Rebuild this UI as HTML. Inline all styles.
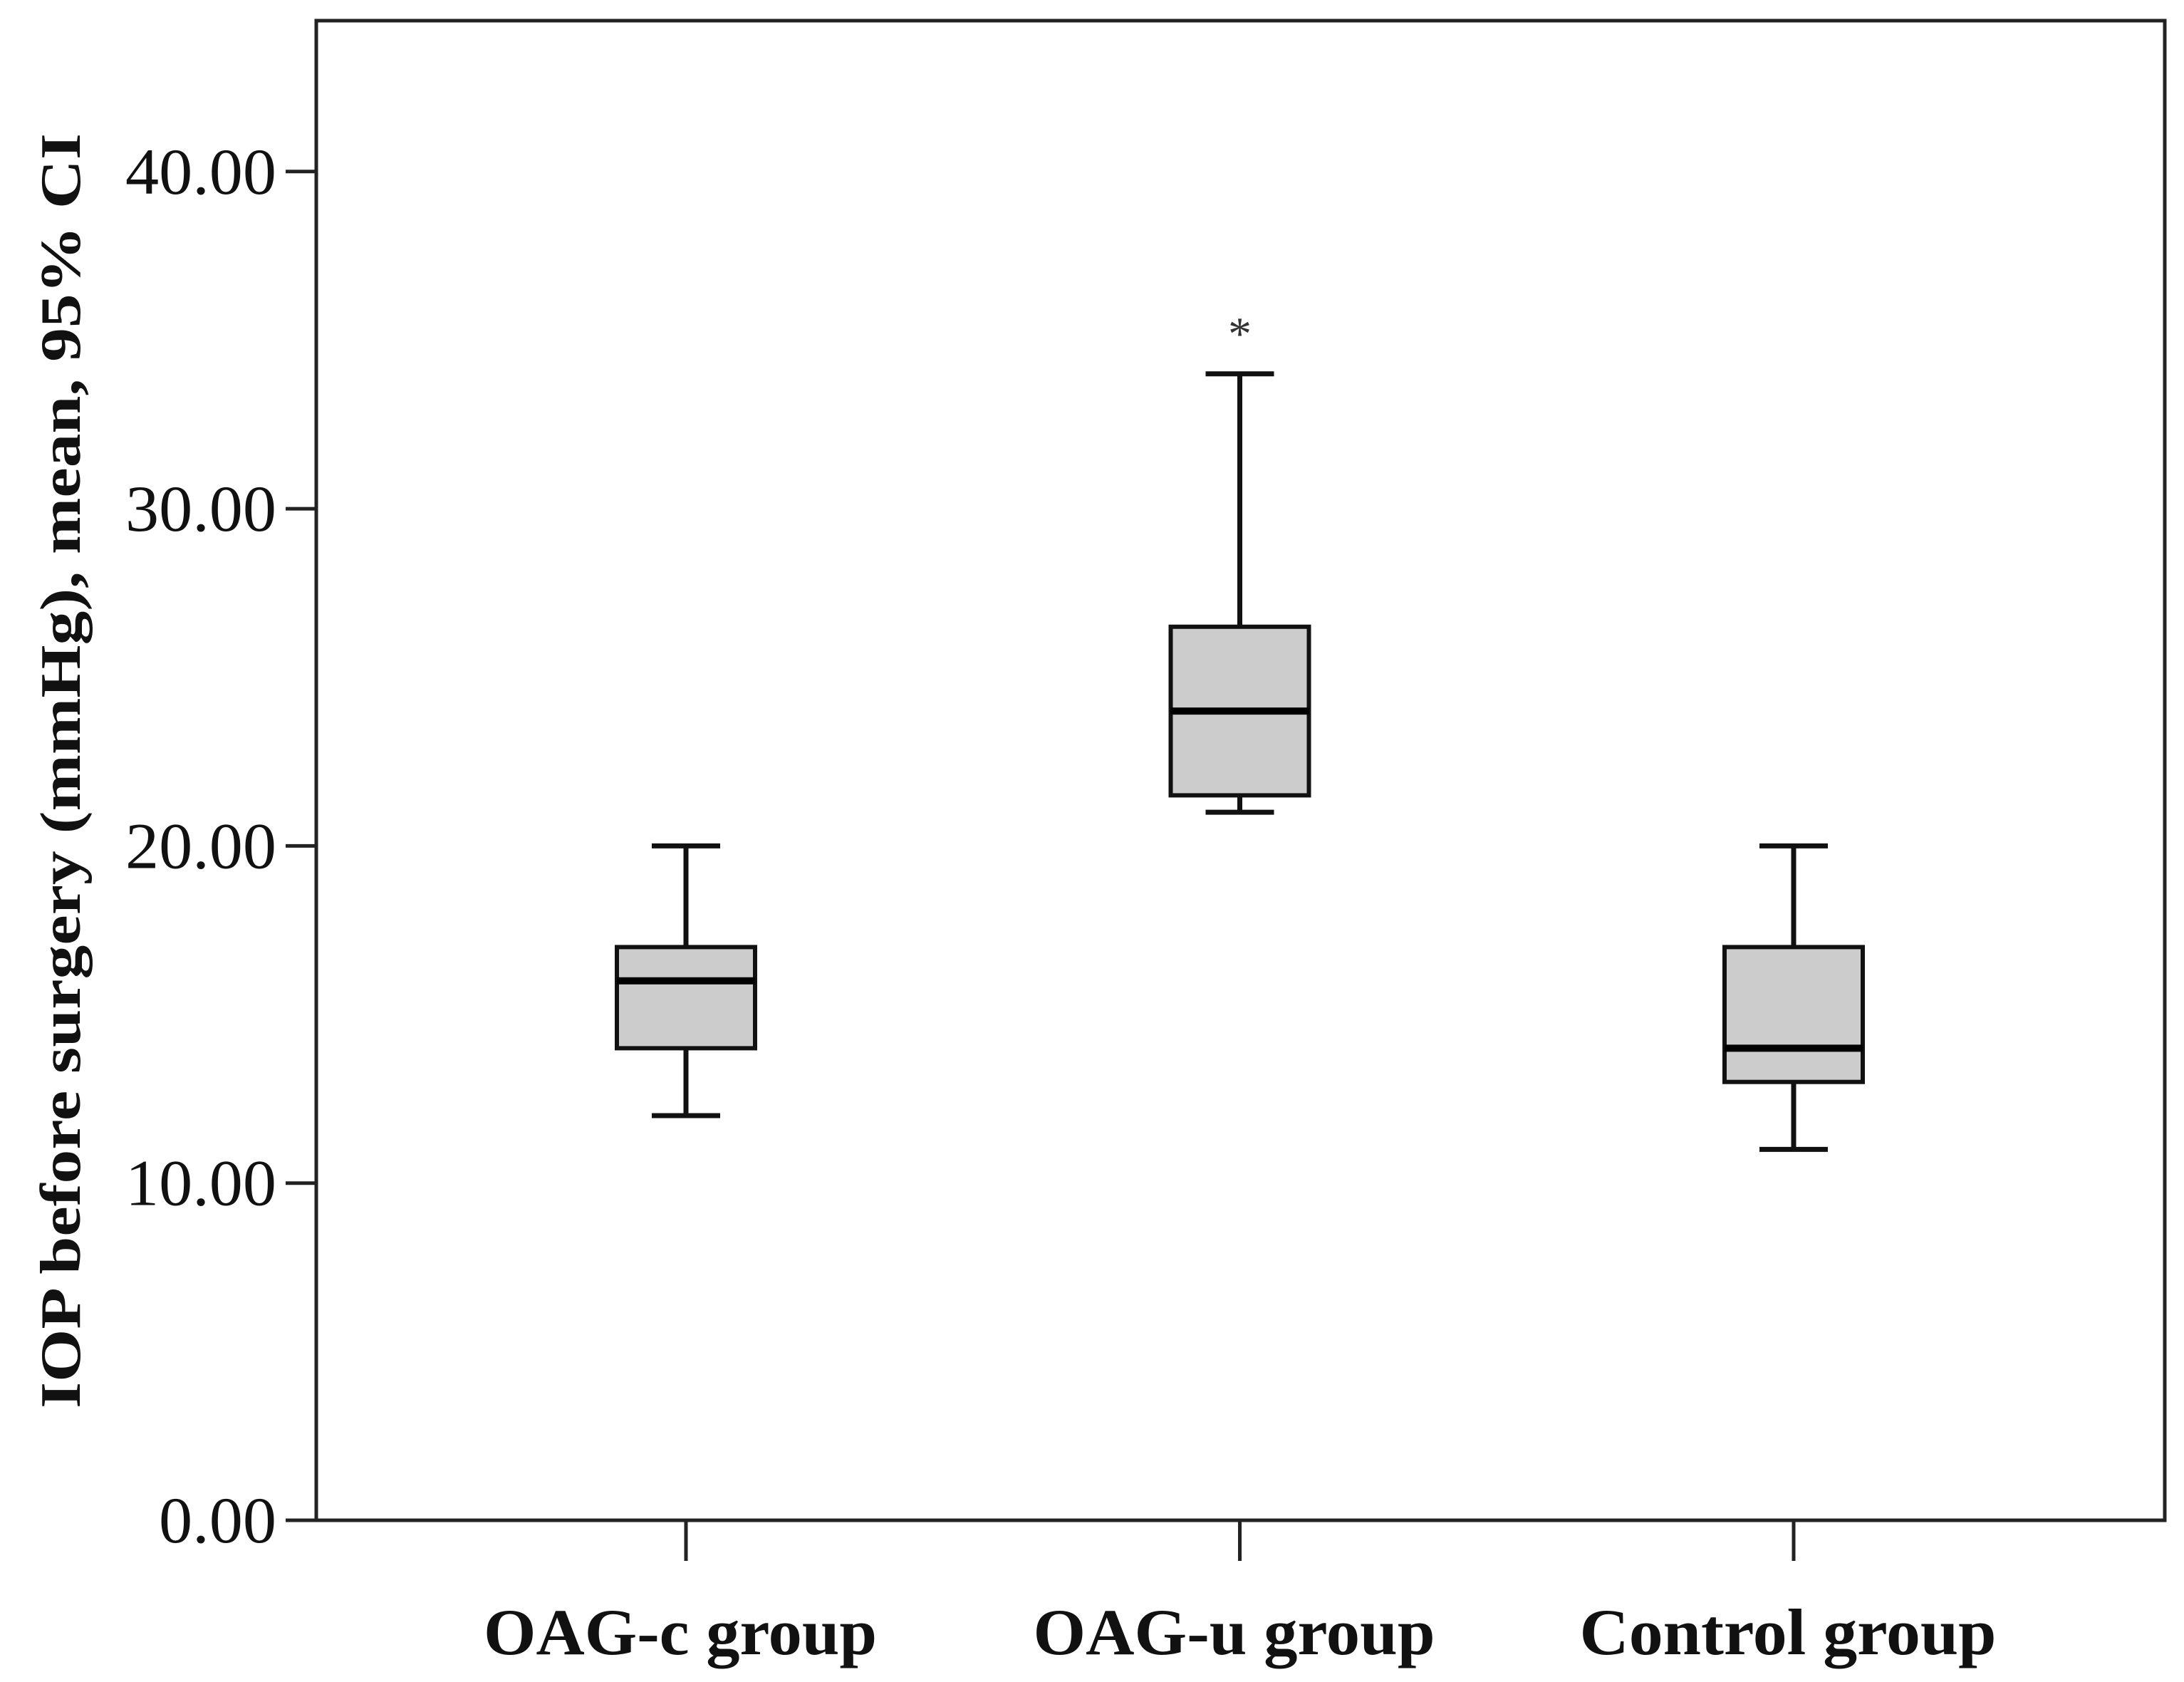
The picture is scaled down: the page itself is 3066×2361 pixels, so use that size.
<!DOCTYPE html>
<html><head><meta charset="utf-8"><style>html,body{margin:0;padding:0;background:#fff}svg{display:block}</style></head>
<body>
<svg id="chart" width="3066" height="2361" viewBox="0 0 3066 2361" xmlns="http://www.w3.org/2000/svg">
<rect x="444" y="29" width="2595" height="2105" fill="#fff" stroke="#222" stroke-width="5"/>
<g id="yaxis"></g>
<g id="xaxis"></g>
<g id="marks"></g>
<text x="0" y="0" transform="translate(112,1082) rotate(-90)" text-anchor="middle" font-family="Liberation Serif, serif" font-weight="bold" font-size="80" textLength="1790" lengthAdjust="spacingAndGlyphs" fill="#111">IOP before surgery (mmHg), mean, 95% CI</text>
</svg>
<script>
const categories = ["OAG-c group", "OAG-u group", "Control group"];
const whiskerLow = [12, 21, 11];
const q1 = [14, 21.5, 13];
const median = [16, 24, 14];
const q3 = [17, 26.5, 17];
const whiskerHigh = [20, 34, 20];
const outliers = [[], [35.4], []];
const yTicks = [0, 10, 20, 30, 40];
const yTickLabels = ["0.00", "10.00", "20.00", "30.00", "40.00"];

const NS = "http://www.w3.org/2000/svg";
const y = v => 2134 - v * 47.33;
const x = i => 963 + i * 777.5;
const labelLen = [552, 564, 585];
function mk(tag, attrs, parent) {
  const e = document.createElementNS(NS, tag);
  for (const k in attrs) e.setAttribute(k, attrs[k]);
  parent.appendChild(e);
  return e;
}
const ya = document.getElementById('yaxis');
yTicks.forEach((t, i) => {
  const l = mk('line', {x1: 401, x2: 444, y1: y(t), y2: y(t), stroke: '#222', 'stroke-width': 5}, ya);
  
  
  const tx = mk('text', {x: 388, y: y(t) + 31, 'text-anchor': 'end', 'font-family': 'Liberation Serif, serif', 'font-size': 92, textLength: t === 0 ? 165 : 212, lengthAdjust: 'spacingAndGlyphs', fill: '#111'}, ya);
  
  
  tx.textContent = yTickLabels[i];
});
const xa = document.getElementById('xaxis');
categories.forEach((c, i) => {
  const l = mk('line', {x1: x(i), x2: x(i), y1: 2134, y2: 2191, stroke: '#222', 'stroke-width': 5}, xa);
  
  
  const tx = mk('text', {x: x(i) - 8, y: 2322, 'text-anchor': 'middle', 'font-family': 'Liberation Serif, serif', 'font-weight': 'bold', 'font-size': 92, textLength: labelLen[i], lengthAdjust: 'spacingAndGlyphs', fill: '#111'}, xa);
  
  
  tx.textContent = c;
});
const mg = document.getElementById('marks');
categories.forEach((c, i) => {
  const cx = x(i), hw = 97, cw = 48;
  const g = mk('g', {}, mg);
  
  
  const w1 = mk('line', {x1: cx, x2: cx, y1: y(whiskerHigh[i]), y2: y(q3[i]), stroke: '#111', 'stroke-width': 7}, g);
  
  
  const w2 = mk('line', {x1: cx, x2: cx, y1: y(q1[i]), y2: y(whiskerLow[i]), stroke: '#111', 'stroke-width': 7}, g);
  
  
  const c1 = mk('line', {x1: cx - cw, x2: cx + cw, y1: y(whiskerHigh[i]), y2: y(whiskerHigh[i]), stroke: '#111', 'stroke-width': 7}, g);
  
  
  const c2 = mk('line', {x1: cx - cw, x2: cx + cw, y1: y(whiskerLow[i]), y2: y(whiskerLow[i]), stroke: '#111', 'stroke-width': 7}, g);
  
  
  const b = mk('rect', {x: cx - hw, y: y(q3[i]), width: hw * 2, height: y(q1[i]) - y(q3[i]), fill: '#cccccc', stroke: '#111', 'stroke-width': 6}, g);
  
  
  const m = mk('line', {x1: cx - hw, x2: cx + hw, y1: y(median[i]), y2: y(median[i]), stroke: '#000', 'stroke-width': 10}, g);
  
  
  outliers[i].forEach(v => {
    const o = mk('text', {x: cx, y: y(v) + 32, 'text-anchor': 'middle', 'font-family': 'Liberation Serif, serif', 'font-size': 66, fill: '#333'}, g);
    
    
    o.textContent = '*';
  });
});
</script>
</body></html>
